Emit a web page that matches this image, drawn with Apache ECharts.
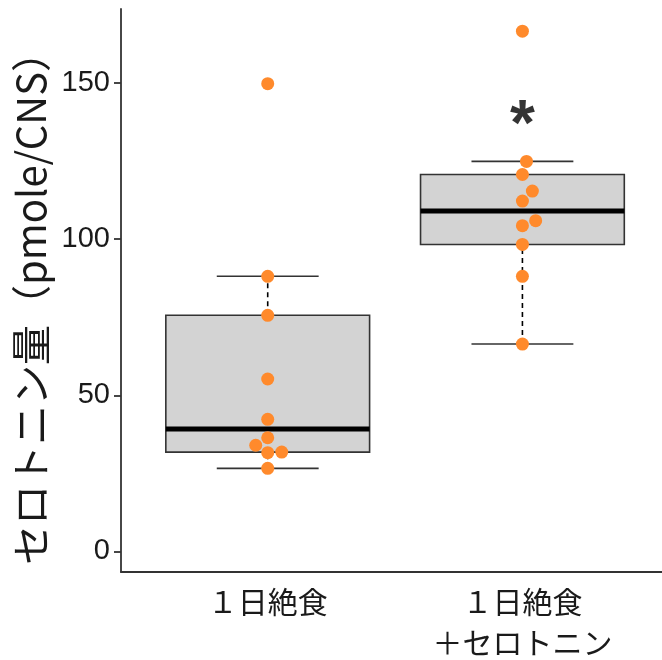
<!DOCTYPE html>
<html>
<head>
<meta charset="utf-8">
<script src="https://cdn.jsdelivr.net/npm/echarts@6/dist/echarts.min.js"></script>
<style>html,body{margin:0;padding:0;background:#fff}#c{width:662px;height:660px}</style>
</head>
<body>
<div id="c"></div>
<script>
// ---- data ----
const categories = ['１日絶食', '１日絶食\n＋セロトニン'];
// box stats per group: [min, q1, median, q3, max]
const boxStats1 = [26.6, 31.8, 39.2, 75.6, 88.1];
const boxStats2 = [66.4, 98.3, 109.0, 120.7, 124.9];
// individual points
const points1 = [149.8, 88.1, 75.6, 55.2, 42.3, 36.4, 34.0, 31.8, 31.6, 26.6];
const jitter1 = [0, 0, 0, 0, 0, 0, -0.047, 0.055, 0, 0];
const points2 = [166.6, 124.9, 120.7, 115.4, 112.2, 105.9, 104.3, 98.3, 88.1, 66.4];
const jitter2 = [0, 0.016, 0, 0.039, 0, 0.052, 0, 0, 0, 0];
const yTicks = [0, 50, 100, 150];
const sigMark = { group: 2, value: 140.2, text: '*' };

const boxData = [[1].concat(boxStats1), [2].concat(boxStats2)];
const scatterData = points1.map((v, i) => [1 + jitter1[i], v])
  .concat(points2.map((v, i) => [2 + jitter2[i], v]));

const chart = echarts.init(document.getElementById('c'), null, { renderer: 'canvas' });
const FONT = '"Liberation Sans", "Noto Sans CJK JP", sans-serif';
const CJK = '"Noto Sans CJK JP", sans-serif';

const option = {
  animation: false,
  backgroundColor: '#fff',
  grid: { left: 121, right: 0, top: 9, bottom: 88, containLabel: false, outerBoundsMode: 'none' },
  xAxis: {
    type: 'value',
    min: 0.424, max: 2.548,
    splitLine: { show: false },
    axisLine: { show: true, onZero: false, lineStyle: { color: '#333', width: 1.8 } },
    axisTick: { show: false },
    axisLabel: {
      show: true,
      customValues: [1, 2],
      formatter: v => categories[Math.round(v) - 1],
      fontFamily: CJK, fontSize: 30, color: '#1a1a1a', lineHeight: 41, margin: 9
    }
  },
  yAxis: {
    type: 'value',
    min: -6.6, max: 173.7,
    splitLine: { show: false },
    axisLine: { show: true, onZero: false, lineStyle: { color: '#333', width: 1.8 } },
    axisTick: { show: true, length: 7, customValues: yTicks, lineStyle: { color: '#333', width: 1.8 } },
    axisLabel: { show: true, customValues: yTicks, fontFamily: FONT, fontSize: 29, color: '#1a1a1a', margin: 11 },
    name: 'セロトニン量（pmole/CNS）',
    nameLocation: 'middle',
    nameRotate: 90,
    nameGap: 67,
    nameTextStyle: { fontFamily: CJK, fontSize: 40, color: '#1a1a1a', padding: [0, 16, 0, 0] }
  },
  series: [
    {
      type: 'custom',
      z: 1,
      data: boxData,
      encode: { x: 0, y: [1, 2, 3, 4, 5] },
      renderItem: function (params, api) {
        const x = api.value(0);
        const mn = api.value(1), q1 = api.value(2), md = api.value(3), q3 = api.value(4), mx = api.value(5);
        const halfBox = api.size([0.8, 0])[0] / 2;
        const halfCap = api.size([0.4, 0])[0] / 2;
        const pMin = api.coord([x, mn]), pQ1 = api.coord([x, q1]), pMd = api.coord([x, md]);
        const pQ3 = api.coord([x, q3]), pMax = api.coord([x, mx]);
        const cx = pMin[0];
        const dash = { stroke: '#000', lineWidth: 1.6, lineDash: [5, 4] };
        const solid = { stroke: '#333', lineWidth: 1.6 };
        return {
          type: 'group',
          children: [
            { type: 'line', shape: { x1: cx, y1: pMin[1], x2: cx, y2: pQ1[1] }, style: dash },
            { type: 'line', shape: { x1: cx, y1: pQ3[1], x2: cx, y2: pMax[1] }, style: dash },
            { type: 'line', shape: { x1: cx - halfCap, y1: pMin[1], x2: cx + halfCap, y2: pMin[1] }, style: solid },
            { type: 'line', shape: { x1: cx - halfCap, y1: pMax[1], x2: cx + halfCap, y2: pMax[1] }, style: solid },
            { type: 'rect', shape: { x: cx - halfBox, y: pQ3[1], width: halfBox * 2, height: pQ1[1] - pQ3[1] },
              style: { fill: '#d3d3d3', stroke: '#333', lineWidth: 1.6 } },
            { type: 'line', shape: { x1: cx - halfBox, y1: pMd[1], x2: cx + halfBox, y2: pMd[1] },
              style: { stroke: '#000', lineWidth: 5 } }
          ]
        };
      }
    },
    {
      type: 'scatter',
      z: 3,
      symbol: 'circle',
      symbolSize: 13,
      itemStyle: { color: '#ff8a2c', opacity: 1 },
      data: scatterData
    },
    {
      type: 'scatter',
      z: 4,
      symbolSize: 0,
      data: [[sigMark.group, sigMark.value]],
      label: {
        show: true, position: 'inside', formatter: sigMark.text,
        fontFamily: '"Liberation Sans", sans-serif', fontWeight: 'bold', fontSize: 64, color: '#000', offset: [0, 14]
      }
    }
  ]
};
chart.setOption(option);
</script>
</body>
</html>
